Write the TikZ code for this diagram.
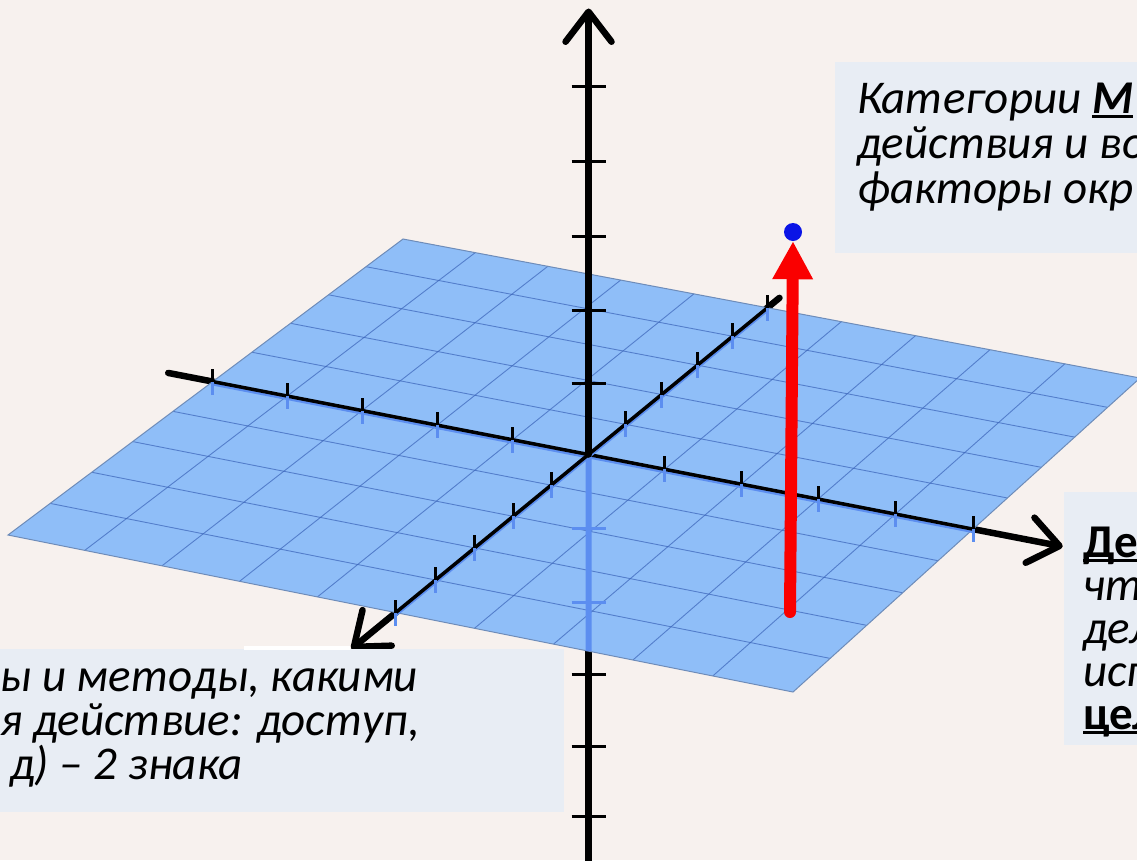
\documentclass[tikz,border=0pt]{standalone}
\usepackage{fontspec}
\setmainfont{Carlito}
\usetikzlibrary{arrows.meta,calc}
\definecolor{paper}{RGB}{247,241,238}
\definecolor{planefill}{RGB}{143,190,248}
\definecolor{gridblue}{RGB}{58,100,185}
\definecolor{edgegray}{RGB}{110,140,185}
\definecolor{underblue}{RGB}{92,142,240}
\definecolor{boxfill}{RGB}{232,237,244}
\definecolor{vecred}{RGB}{250,0,0}
\definecolor{dotblue}{RGB}{10,20,230}

% plane corners in pixels (front-left, front-right, back-left, back-right) and projective weights
\def\Lx{8}\def\Ly{535}\def\wL{1}
\def\Fx{793}\def\Fy{692}\def\wF{0.9765}
\def\Bx{403}\def\By{239}\def\wB{1.0762}
\def\Rx{1140}\def\Ry{378}\def\wR{1.0527}

% point (X,Y) of the plane, X to the right, Y towards the viewer, -5..5
\newcommand\plpt[3]{%
  \pgfmathsetmacro\qu{(#1+5)/10}%
  \pgfmathsetmacro\qv{(5-#2)/10}%
  \pgfmathsetmacro\qa{(1-\qu)*(1-\qv)*\wL}%
  \pgfmathsetmacro\qb{\qu*(1-\qv)*\wF}%
  \pgfmathsetmacro\qc{(1-\qu)*\qv*\wB}%
  \pgfmathsetmacro\qd{\qu*\qv*\wR}%
  \pgfmathsetmacro\qs{\qa+\qb+\qc+\qd}%
  \pgfmathsetmacro\qx{(\qa*\Lx+\qb*\Fx+\qc*\Bx+\qd*\Rx)/\qs}%
  \pgfmathsetmacro\qy{(\qa*\Ly+\qb*\Fy+\qc*\By+\qd*\Ry)/\qs}%
  \coordinate (#3) at (\qx,\qy);}

% bold underlined word
\newcommand\ubf[1]{\setbox0=\hbox{\bfseries #1}\rlap{\rule[-5pt]{\wd0}{3.5pt}}\box0}
\newcommand\ubfup[1]{\setbox0=\hbox{\bfseries\upshape #1}\rlap{\rule[-5pt]{\wd0}{3.5pt}}\box0}

\begin{document}
\begin{tikzpicture}[x=1pt, y=-1pt,
  thick axis/.style={line width=6.5pt, line cap=round},
  ax tip/.style={-{Straight Barb[length=30pt,width=46pt,round]}},
  thin axis/.style={line width=3.5pt},
  shade axis/.style={underblue, line width=3pt},
  tickmark/.style={line width=3pt},
  under tick/.style={underblue, line width=3pt},
  gridline/.style={gridblue, line width=0.9pt, opacity=0.7},
  planeedge/.style={edgegray, line width=1pt},
  vec/.style={vecred, line width=12pt, line cap=round, -{Triangle[length=38pt,width=38pt]}},
  dot/.style={circle, fill=dotblue, inner sep=0pt, minimum size=18pt},
  txtbox/.style={fill=boxfill, inner sep=0pt, anchor=north west},
  txt/.style={font=\fontsize{47}{47}\selectfont\itshape, inner sep=0pt, anchor=base west}
]
\fill[paper] (0,0) rectangle (1137,860);
\useasboundingbox (0,0) rectangle (1137,860);
\clip (0,0) rectangle (1137,860);

\coordinate (L) at (\Lx,\Ly);
\coordinate (F) at (\Fx,\Fy);
\coordinate (B) at (\Bx,\By);
\coordinate (R) at (\Rx,\Ry);
\plpt{0}{0}{O}
\plpt{-5.6}{0}{xl} \plpt{-5}{0}{xa} \plpt{5}{0}{xb} \plpt{6.15}{0}{xr}
\plpt{0}{-5.35}{yl} \plpt{0}{-5}{ya} \plpt{0}{5}{yb} \plpt{0}{6.1}{yr}
\coordinate (zb) at ($(O)+(0,415)$);
\coordinate (zt) at ($(O)+(0,-446)$);

% axes behind the plane
\draw[thick axis] (xl) -- (O);
\draw[thick axis, ax tip] (O) -- (xr);
\draw[thick axis] (yl) -- (O);
\draw[thick axis, ax tip] (O) -- (yr);
\draw[thick axis] (zb) -- (O);
\foreach \d in {220,292,362}
  \draw[tickmark] ($(O)+(-17,\d)$) -- ($(O)+(17,\d)$);

% plane with grid
\fill[planefill] (L) -- (F) -- (R) -- (B) -- cycle;
\foreach \k in {-4,...,4}{
  \plpt{\k}{-5}{ga} \plpt{\k}{5}{gb}
  \draw[gridline] (ga) -- (gb);
  \plpt{-5}{\k}{gc} \plpt{5}{\k}{gd}
  \draw[gridline] (gc) -- (gd);
}
\draw[planeedge] (L) -- (F) -- (R) -- (B) -- cycle;

% axes on the plane
\coordinate (zf) at (intersection of L--F and O--zb);
\draw[underblue, line width=6pt] (O) -- (zf);
\foreach \d in {74,148}
  \draw[under tick] ($(O)+(-17,\d)$) -- ($(O)+(17,\d)$);
\draw[shade axis] ([yshift=-2.5pt]xa) -- ([yshift=-2.5pt]xb);
\draw[thin axis] (xa) -- (xb);
\draw[shade axis] ([yshift=-2.5pt]ya) -- ([yshift=-2.5pt]yb);
\draw[thin axis] (ya) -- (yb);
\foreach \k in {-5,-4,-3,-2,-1,1,2,3,4,5}{
  \plpt{\k}{0}{tx}
  \draw[under tick] (tx) -- ++(0,13);
  \draw[tickmark] (tx) -- ++(0,-13);
  \plpt{0}{\k}{ty}
  \draw[under tick] (ty) -- ++(0,13);
  \draw[tickmark] (ty) -- ++(0,-13);
}
\draw[thick axis, ax tip] (O) -- (zt);
\foreach \d in {71,144,218,293,368}
  \draw[tickmark] ($(O)+(-17,-\d)$) -- ($(O)+(17,-\d)$);

% vector
\coordinate (vb) at (790,612);
\node[dot] (pt) at (793,232) {};
\draw[vec] (vb) -- (pt.south);

% text boxes
\node[txtbox, minimum width=320pt, minimum height=191pt] (trbox) at (835,62) {};
\node[txtbox, minimum width=610pt, minimum height=163pt] (blbox) at (-46,649) {};
\node[txtbox, minimum width=100pt, minimum height=253pt] (rbox) at (1064,492) {};
\fill[white] (244,646) rectangle (350,650);
\foreach \s [count=\n] in {{Категории \ubf{М}}, {действия и во}, {факторы окр}}
  \node[txt] (tr\n) at (857,68+45*\n) {\s};
\foreach \s/\xs [count=\n] in {{ы и методы, какими}/0, {я действие: доступ,}/0, {д) – 2 знака}/10}
  \node[txt] (bl\n) at (\xs,647+44*\n) {\s};
\foreach \s [count=\n] in {{\ubfup{Де}}, {чт}, {дел}, {исп}, {\ubfup{цел}}}
  \node[txt] (r\n) at (1083,514+43*\n) {\s};
\end{tikzpicture}
\end{document}
